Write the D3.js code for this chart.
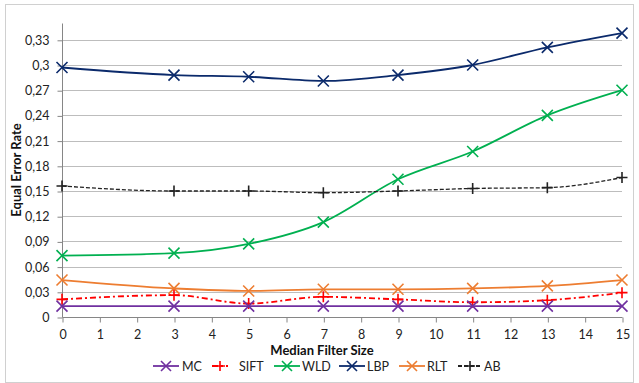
<!DOCTYPE html>
<html><head><meta charset="utf-8">
<script src="https://cdn.jsdelivr.net/npm/d3@7"></script>
<style>body{margin:0;background:#fff}svg{display:block}</style>
</head><body>
<svg id="c" width="639" height="383"></svg>
<script>
const xValues = [0, 3, 5, 7, 9, 11, 13, 15];
const xTicks = d3.range(0, 16);
const yTicks = [0, 0.03, 0.06, 0.09, 0.12, 0.15, 0.18, 0.21, 0.24, 0.27, 0.30, 0.33];
const yTickLabels = ["0", "0,03", "0,06", "0,09", "0,12", "0,15", "0,18", "0,21", "0,24", "0,27", "0,3", "0,33"];
const MC   = [0.013, 0.013, 0.013, 0.013, 0.013, 0.013, 0.013, 0.013];
const SIFT = [0.021, 0.026, 0.016, 0.024, 0.021, 0.0175, 0.020, 0.029];
const WLD  = [0.073, 0.076, 0.087, 0.113, 0.164, 0.197, 0.240, 0.270];
const LBP  = [0.297, 0.288, 0.286, 0.281, 0.288, 0.300, 0.321, 0.338];
const RLT  = [0.044, 0.034, 0.031, 0.033, 0.033, 0.034, 0.037, 0.044];
const AB   = [0.156, 0.150, 0.150, 0.148, 0.150, 0.153, 0.154, 0.166];
const seriesNames = ["MC", "SIFT", "WLD", "LBP", "RLT", "AB"];
const seriesData = [MC, SIFT, WLD, LBP, RLT, AB];

const styles = {
  MC:   {color: "#7030a0", dash: null, marker: "x"},
  SIFT: {color: "#ff0000", dash: "6,3,2,3", marker: "+"},
  WLD:  {color: "#00b050", dash: null, marker: "x"},
  LBP:  {color: "#0b2a6b", dash: null, marker: "x"},
  RLT:  {color: "#ed7d31", dash: null, marker: "x"},
  AB:   {color: "#222222", dash: "4,2", marker: "+"}
};

const font = "Lato, 'Open Sans', sans-serif";
const svg = d3.select("#c");
// outer border
svg.append("rect").attr("x", 5.5).attr("y", 4.5).attr("width", 628).attr("height", 378)
  .attr("fill", "#fff").attr("stroke", "#d0d0d0").attr("stroke-width", 1);

const x = d3.scaleLinear().domain([0, 15]).range([62, 622]);
const y = d3.scaleLinear().domain([0, 0.35]).range([317, 23]);

// gridlines
svg.append("g").selectAll("line").data(yTicks.slice(1)).join("line")
  .attr("x1", x(0)).attr("x2", x(15))
  .attr("y1", d => Math.round(y(d)) + 0.5).attr("y2", d => Math.round(y(d)) + 0.5)
  .attr("stroke", "#bdbdbd").attr("stroke-width", 1);

// y axis
const yAxis = d3.axisLeft(y).tickValues(yTicks).tickSize(5).tickPadding(8)
  .tickFormat((d, i) => yTickLabels[i]);
const gy = svg.append("g").attr("transform", `translate(${x(0) + 0.5},0.5)`).call(yAxis);
gy.select(".domain").attr("stroke", "#868686").attr("d", `M-0,${y(0.35)}V${y(0)}`);
gy.selectAll(".tick line").attr("stroke", "#868686");
gy.selectAll("text").attr("font-family", font).attr("font-size", 12.5).attr("fill", "#222");

// x axis
const xAxis = d3.axisBottom(x).tickValues(xTicks).tickSize(5).tickPadding(8).tickFormat(d3.format("d"));
const gx = svg.append("g").attr("transform", `translate(0.5,${y(0) + 0.5})`).call(xAxis);
gx.select(".domain").attr("stroke", "#868686").attr("d", `M${x(0)},0H${x(15)}`);
gx.selectAll(".tick line").attr("stroke", "#868686");
gx.selectAll("text").attr("font-family", font).attr("font-size", 12.5).attr("fill", "#222");

// titles
svg.append("text").attr("x", 322).attr("y", 355).attr("text-anchor", "middle")
  .attr("font-family", font).attr("font-weight", "bold").attr("font-size", 13).attr("fill", "#111")
  .text("Median Filter Size");
svg.append("text").attr("transform", "translate(21,170) rotate(-90)").attr("text-anchor", "middle")
  .attr("font-family", font).attr("font-weight", "bold").attr("font-size", 13).attr("fill", "#111")
  .text("Equal Error Rate");

function drawMarker(g, type, cx, cy, color, r) {
  if (type === "x") {
    g.append("path").attr("d", `M${cx - r},${cy - r}L${cx + r},${cy + r}M${cx - r},${cy + r}L${cx + r},${cy - r}`)
      .attr("stroke", color).attr("stroke-width", 1.6).attr("fill", "none");
  } else {
    g.append("path").attr("d", `M${cx - r},${cy}L${cx + r},${cy}M${cx},${cy - r}L${cx},${cy + r}`)
      .attr("stroke", color).attr("stroke-width", 1.6).attr("fill", "none");
  }
}

const line = d3.line().x((d, i) => x(xValues[i])).y(d => y(d)).curve(d3.curveMonotoneX);
const order = ["RLT", "SIFT", "MC", "WLD", "AB", "LBP"];
order.forEach(name => {
  const data = seriesData[seriesNames.indexOf(name)];
  const st = styles[name];
  const g = svg.append("g");
  g.append("path").datum(data).attr("d", line).attr("fill", "none")
    .attr("stroke", st.color).attr("stroke-width", name === "AB" ? 1.3 : 1.8)
    .attr("stroke-dasharray", st.dash);
  data.forEach((v, i) => drawMarker(g, st.marker, x(xValues[i]), y(v), st.color, 5.5));
});

// legend
const legendPos = {MC: [153, 179, 182], SIFT: [212, 228, 239], WLD: [274, 300, 302], LBP: [339, 365, 367], RLT: [399, 425, 427], AB: [458, 482, 484]};
const ly = 366;
seriesNames.forEach(name => {
  const st = styles[name];
  const [a, b, t] = legendPos[name];
  const g = svg.append("g");
  g.append("line").attr("x1", a).attr("x2", b).attr("y1", ly).attr("y2", ly)
    .attr("stroke", st.color).attr("stroke-width", 1.8).attr("stroke-dasharray", st.dash);
  drawMarker(g, st.marker, (a + b) / 2, ly, st.color, 5);
  g.append("text").attr("x", t).attr("y", ly + 4.5).attr("font-family", font).attr("font-size", 12.5)
    .attr("fill", "#222").text(name);
});
</script>
</body></html>
